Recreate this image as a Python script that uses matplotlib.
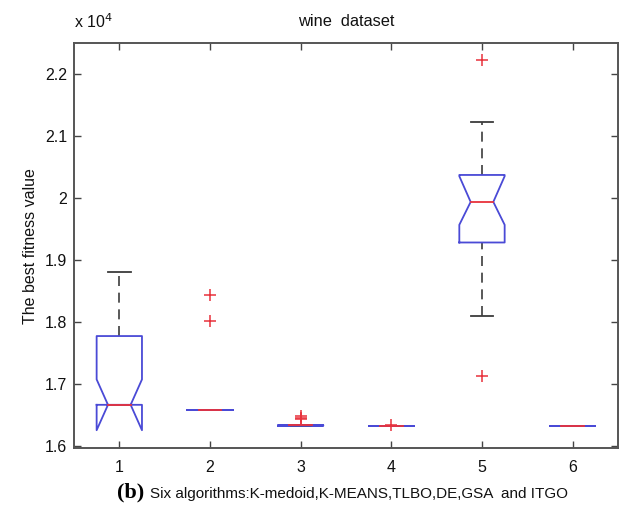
import matplotlib
matplotlib.use("Agg")
import matplotlib.pyplot as plt

# Box statistics (in units of 1e4) for the six algorithms
positions = [1, 2, 3, 4, 5, 6]
q1 = [1.666, 1.658, 1.6322, 1.6315, 1.928, 1.631]
median = [1.666, 1.658, 1.6327, 1.6315, 1.9935, 1.631]
q3 = [1.777, 1.658, 1.6332, 1.6315, 2.037, 1.631]
notch_lo = [1.625, 1.658, 1.6322, 1.6315, 1.9565, 1.631]
notch_hi = [1.707, 1.658, 1.6332, 1.6315, 2.035, 1.631]
whisker_lo = [1.666, 1.658, 1.6322, 1.6315, 1.810, 1.631]
whisker_hi = [1.881, 1.658, 1.6332, 1.6315, 2.123, 1.631]
outliers = [
    [],
    [1.8435, 1.8005],
    [1.6475, 1.6450, 1.6435],
    [1.6340],
    [2.2226, 1.7130],
    [],
]
yticks = [1.6, 1.7, 1.8, 1.9, 2.0, 2.1, 2.2]
ytick_labels = ["1.6", "1.7", "1.8", "1.9", "2", "2.1", "2.2"]

BLUE = "#4a4ad6"
RED = "#e8323c"
GRAY = "#3c3c3c"

plt.rcParams["font.family"] = ["Liberation Sans", "DejaVu Sans"]

fig = plt.figure(figsize=(6.29, 5.07), dpi=100)
ax = fig.add_axes([0.1176, 0.1154, 0.8649, 0.7998])

half = 0.25
for i, x in enumerate(positions):
    # whiskers and caps
    ax.plot([x, x], [q3[i], whisker_hi[i]], color=GRAY, lw=1.2,
            ls=(0, (6, 4)), zorder=2)
    ax.plot([x, x], [whisker_lo[i], q1[i]], color=GRAY, lw=1.2,
            ls=(0, (6, 4)), zorder=2)
    ax.plot([x - half / 2, x + half / 2], [whisker_hi[i]] * 2, color=GRAY,
            lw=1.3, zorder=2)
    ax.plot([x - half / 2, x + half / 2], [whisker_lo[i]] * 2, color=GRAY,
            lw=1.3, zorder=2)
    # notched box outline
    L, R = x - half, x + half
    il, ir = x - half / 2, x + half / 2
    bx = [L, L, il, L, L, R, R, ir, R, R, L]
    by = [q1[i], notch_lo[i], median[i], notch_hi[i], q3[i], q3[i],
          notch_hi[i], median[i], notch_lo[i], q1[i], q1[i]]
    ax.plot(bx, by, color=BLUE, lw=1.3, zorder=3)
    # median
    ax.plot([il, ir], [median[i]] * 2, color=RED, lw=1.3, zorder=4)
    # outliers
    if outliers[i]:
        ax.plot([x] * len(outliers[i]), outliers[i], ls="none", marker="+",
                color=RED, ms=8, mew=1.1, zorder=5)

ax.set_xlim(0.5, 6.5)
ax.set_ylim(1.5955, 2.25)
ax.set_xticks(positions)
ax.set_xticklabels([str(p) for p in positions])
ax.set_yticks(yticks)
ax.set_yticklabels(ytick_labels)
ax.tick_params(direction="in", length=5, width=1, color="#444444",
               labelsize=11.5, top=True, right=True, labelcolor="#111111")
ax.tick_params(axis="x", pad=8)
ax.tick_params(axis="y", pad=5)
for s in ax.spines.values():
    s.set_color("#555555")
    s.set_linewidth(1.4)

ax.set_title("wine  dataset", fontsize=11.8, pad=12, color="#111111")
ax.set_ylabel("The best fitness value", fontsize=11.5, labelpad=5,
              color="#111111")
ax.text(0.0, 1.03, r"x 10$^{4}$", transform=ax.transAxes, fontsize=11.5,
        ha="left", va="bottom", color="#111111")

fig.text(0.186, 0.018, "(b)", fontsize=16, fontweight="bold",
         family=["Liberation Serif", "DejaVu Serif"], ha="left", va="baseline")
fig.text(0.238, 0.018, "Six algorithms:K-medoid,K-MEANS,TLBO,DE,GSA  and ITGO",
         fontsize=11, ha="left", va="baseline", color="#111111")

fig.savefig("out.png", dpi=100)
